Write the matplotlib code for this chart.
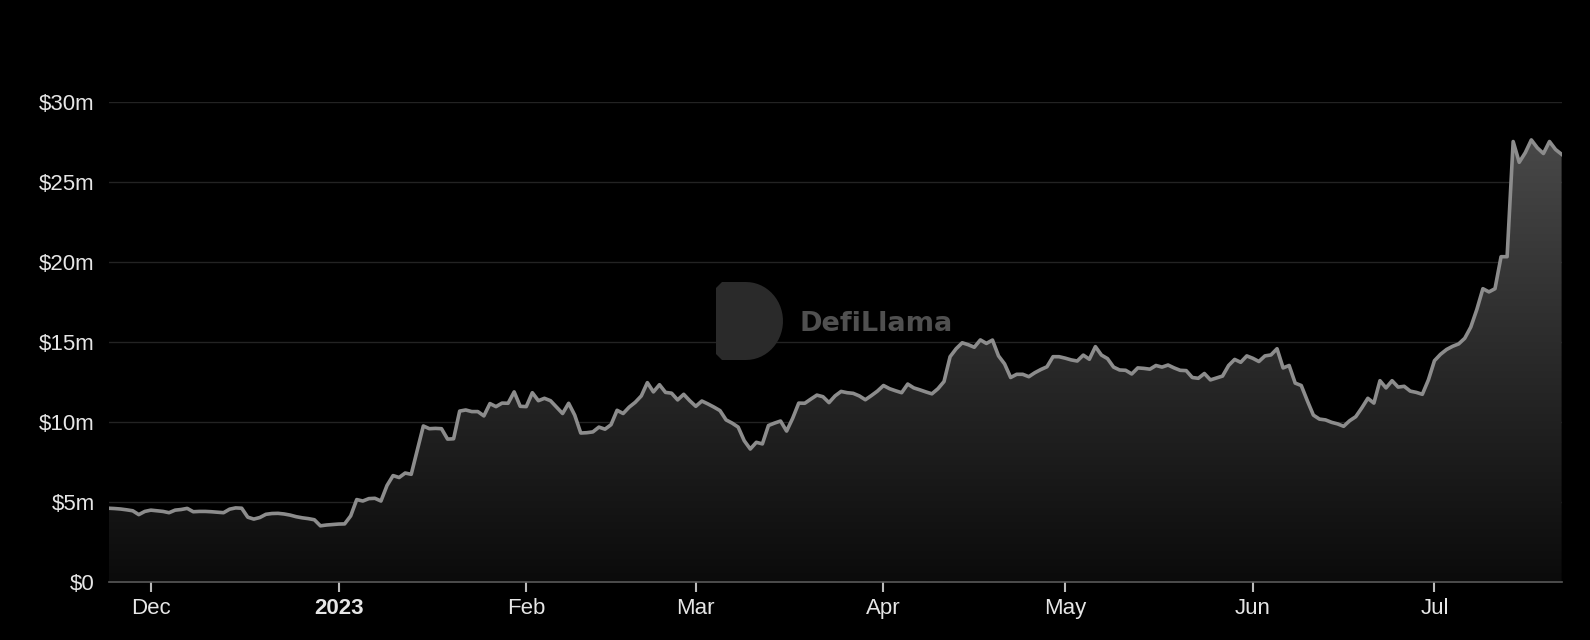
import numpy as np
import pandas as pd
import matplotlib
matplotlib.use('Agg')
import matplotlib.pyplot as plt
import matplotlib.dates as mdates
from matplotlib.colors import LinearSegmentedColormap
from matplotlib.patches import PathPatch
from matplotlib.path import Path
from matplotlib.ticker import FuncFormatter

# daily TVL in $m, 2022-11-24 .. 2023-07-22
start_date = '2022-11-24'
tvl = [
    4.58, 4.56, 4.53, 4.48, 4.42, 4.18, 4.38, 4.46, 4.42, 4.38,
    4.30, 4.46, 4.50, 4.57, 4.36, 4.38, 4.38, 4.36, 4.33, 4.30,
    4.52, 4.60, 4.58, 4.02, 3.90, 4.00, 4.20, 4.25, 4.26, 4.22,
    4.15, 4.05, 3.98, 3.93, 3.86, 3.48, 3.53, 3.56, 3.59, 3.60,
    4.10, 5.12, 5.03, 5.18, 5.20, 5.03, 6.00, 6.62, 6.50, 6.78,
    6.70, 8.20, 9.72, 9.55, 9.57, 9.55, 8.90, 8.92, 10.65, 10.72,
    10.62, 10.62, 10.35, 11.12, 10.93, 11.15, 11.14, 11.85, 10.95, 10.93,
    11.80, 11.30, 11.45, 11.30, 10.90, 10.50, 11.14, 10.40, 9.28, 9.30,
    9.35, 9.65, 9.52, 9.80, 10.70, 10.50, 10.90, 11.20, 11.60, 12.43,
    11.85, 12.30, 11.82, 11.77, 11.35, 11.70, 11.30, 10.95, 11.28, 11.10,
    10.90, 10.68, 10.10, 9.90, 9.65, 8.80, 8.28, 8.70, 8.60, 9.75,
    9.90, 10.03, 9.40, 10.20, 11.15, 11.14, 11.40, 11.65, 11.55, 11.18,
    11.60, 11.88, 11.80, 11.76, 11.60, 11.36, 11.62, 11.90, 12.25, 12.05,
    11.92, 11.80, 12.34, 12.10, 11.98, 11.85, 11.73, 12.05, 12.50, 14.05,
    14.55, 14.92, 14.80, 14.64, 15.10, 14.88, 15.09, 14.10, 13.60, 12.75,
    12.95, 12.95, 12.80, 13.05, 13.25, 13.42, 14.05, 14.05, 13.96, 13.85,
    13.78, 14.15, 13.89, 14.68, 14.15, 13.93, 13.40, 13.22, 13.20, 12.97,
    13.35, 13.32, 13.27, 13.50, 13.40, 13.53, 13.35, 13.20, 13.18, 12.75,
    12.70, 13.00, 12.60, 12.72, 12.84, 13.50, 13.88, 13.70, 14.10, 13.95,
    13.75, 14.10, 14.16, 14.55, 13.35, 13.50, 12.40, 12.25, 11.30, 10.40,
    10.15, 10.10, 9.95, 9.85, 9.70, 10.05, 10.30, 10.85, 11.45, 11.15,
    12.55, 12.10, 12.55, 12.15, 12.20, 11.90, 11.82, 11.70, 12.60, 13.80,
    14.20, 14.50, 14.70, 14.85, 15.20, 15.90, 17.00, 18.30, 18.10, 18.30,
    20.30, 20.30, 27.50, 26.20, 26.80, 27.60, 27.10, 26.75, 27.50, 27.00,
    26.70,
]
y_ticks = [0, 5, 10, 15, 20, 25, 30]
y_labels = ['$0', '$5m', '$10m', '$15m', '$20m', '$25m', '$30m']

dates = pd.date_range(start_date, periods=len(tvl), freq='D')
xs = mdates.date2num(dates.to_pydatetime())
vals = np.array(tvl)

plt.rcParams['font.family'] = ['Liberation Sans', 'DejaVu Sans']

W, H = 1590, 640
fig = plt.figure(figsize=(W / 100, H / 100), dpi=100, facecolor='black')
ax = fig.add_axes([108.5 / W, 1 - 581.5 / H, (1561.6 - 108.5) / W, 480 / H])
ax.set_facecolor('black')

# gradient area under the line
poly = ax.fill_between(xs, 0, vals, color='none', lw=0)
cmap = LinearSegmentedColormap.from_list('g', ['#0b0b0b', '#484848'])
grad = np.linspace(0, 1, 256).reshape(-1, 1)
im = ax.imshow(grad, extent=[xs[0], xs[-1], 0, vals.max()], origin='lower',
               aspect='auto', cmap=cmap, zorder=1)
im.set_clip_path(poly.get_paths()[0], transform=ax.transData)

ax.plot(xs, vals, color='#8c8c8c', lw=2.6, zorder=3, solid_joinstyle='round')

ax.set_xlim(xs[0], xs[-1])
ax.set_ylim(0, 30)
ax.set_yticks(y_ticks)
ax.set_yticklabels(y_labels)
for t in y_ticks[1:]:
    ax.axhline(t, color='#232323', lw=1, zorder=0.5)


def month_fmt(x, pos):
    d = mdates.num2date(x)
    if d.month == 1:
        return str(d.year)
    return d.strftime('%b')


ax.xaxis.set_major_locator(mdates.MonthLocator())
ax.xaxis.set_major_formatter(FuncFormatter(month_fmt))
fig.canvas.draw()
for lbl in ax.get_xticklabels():
    if lbl.get_text().isdigit():
        lbl.set_fontweight('bold')

ax.tick_params(axis='x', colors='#e6e6e6', labelsize=16, length=7, width=1.5,
               pad=5, color='#bbbbbb')
ax.tick_params(axis='y', colors='#e6e6e6', labelsize=16, length=0, pad=10)
for s in ['top', 'right', 'left']:
    ax.spines[s].set_visible(False)
ax.spines['bottom'].set_color('#5a5a5a')
ax.spines['bottom'].set_linewidth(1.2)

# watermark: a "D" badge and the name
x0, x1, yt, yb = 716, 783, 282, 360
r = (yb - yt) / 2
cx = x1 - r * 0.95
verts = [(x0 + 6, yt), (cx, yt)]
for a in np.linspace(np.pi / 2, -np.pi / 2, 30):
    verts.append((cx + 0.95 * r * np.cos(a), (yt + yb) / 2 - r * np.sin(a)))
verts += [(x0 + 6, yb), (x0, yb - 6), (x0, yt + 6), (x0 + 6, yt)]
verts = [(vx / W, 1 - vy / H) for vx, vy in verts]
badge = PathPatch(Path(verts), transform=fig.transFigure, facecolor='#2a2a2a',
                  edgecolor='none', zorder=5)
fig.patches.append(badge)
fig.text(800 / W, 1 - 324 / H, 'DefiLlama', color='#505050',
         fontsize=19.5, fontweight='bold', va='center', ha='left',
         family=['DejaVu Sans'])

fig.savefig('out.png', dpi=100, facecolor='black')
